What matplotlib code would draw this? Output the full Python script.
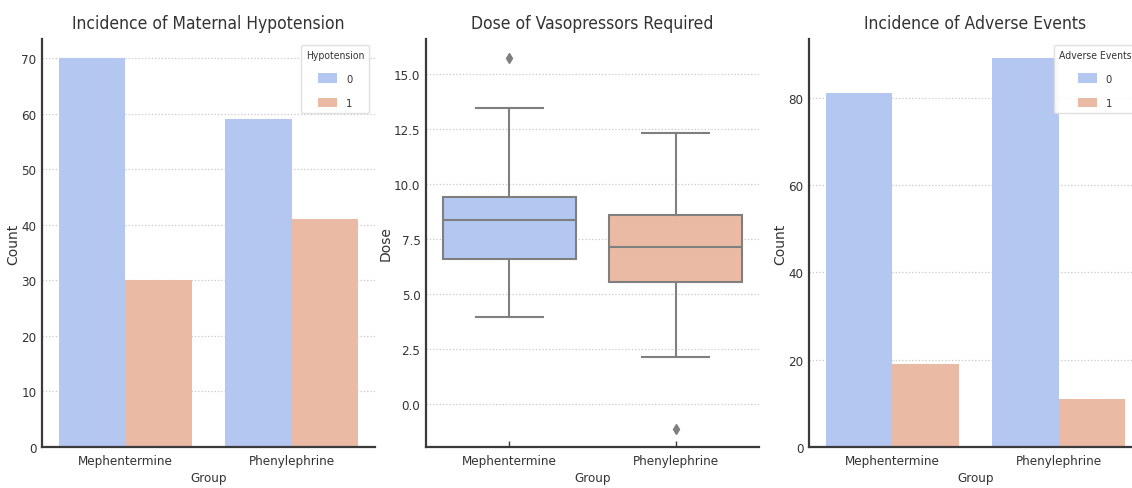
import numpy as np
import matplotlib.pyplot as plt

groups = ['Mephentermine', 'Phenylephrine']
hypo_0 = [70, 59]
hypo_1 = [30, 41]
adverse_0 = [81, 89]
adverse_1 = [19, 11]

# dose box summaries
dose_q1 = [6.58, 5.55]
dose_med = [8.36, 7.14]
dose_q3 = [9.41, 8.59]
dose_lo = [3.95, 2.14]
dose_hi = [13.45, 12.32]
dose_out = [[15.73], [-1.14]]

BLUE = '#b3c7f1'
ORANGE = '#ebbaa4'
EDGE = '#3a3a3a'

plt.rcParams['font.family'] = 'DejaVu Sans'
plt.rcParams['font.stretch'] = 'condensed'
plt.rcParams['text.color'] = '#333333'
plt.rcParams['axes.labelcolor'] = '#333333'
plt.rcParams['xtick.color'] = '#333333'
plt.rcParams['ytick.color'] = '#333333'

fig = plt.figure(figsize=(11.32, 4.89), dpi=100)
W, H = 1132, 489


def make_ax(left, right, top=40, bottom=448):
    ax = fig.add_axes([left / W, 1 - bottom / H, (right - left) / W, (bottom - top) / H])
    for s in ['top', 'right']:
        ax.spines[s].set_visible(False)
    for s in ['left', 'bottom']:
        ax.spines[s].set_color(EDGE)
        ax.spines[s].set_linewidth(1.6)
    ax.set_axisbelow(True)
    ax.yaxis.grid(True, linestyle=':', color='#c8c8c8', linewidth=0.9)
    ax.tick_params(axis='x', labelsize=9.5, length=4, width=1, color=EDGE, direction='in', pad=5)
    ax.tick_params(axis='y', labelsize=9.5, length=0, pad=4)
    return ax


def style_labels(ax, title, ylabel):
    ax.set_title(title, fontsize=12.5, pad=8)
    ax.set_xlabel('Group', fontsize=9.5, labelpad=3)
    ax.set_ylabel(ylabel, fontsize=10, fontstretch='normal', labelpad=1)


def count_bars(ax, v0, v1, legend_title):
    x = np.arange(len(groups))
    w = 0.4
    ax.bar(x - w / 2, v0, w, color=BLUE, label='0')
    ax.bar(x + w / 2, v1, w, color=ORANGE, label='1')
    ax.set_xticks(x)
    ax.set_xticklabels(groups)
    ax.set_xlim(-0.5, len(groups) - 0.5)
    ax.set_ylim(0, max(max(v0), max(v1)) * 1.05)
    leg = ax.legend(title=legend_title, loc='upper right', fontsize=8, title_fontsize=7.5,
                    handlelength=1.7, handleheight=0.9, framealpha=0.9, edgecolor='#dddddd',
                    borderpad=0.45, labelspacing=1.25, borderaxespad=0.5)
    return leg


ax1 = make_ax(42, 375)
count_bars(ax1, hypo_0, hypo_1, 'Hypotension')
style_labels(ax1, 'Incidence of Maternal Hypotension', 'Count')

ax2 = make_ax(426, 759)
stats = []
for i in range(len(groups)):
    stats.append({'med': dose_med[i], 'q1': dose_q1[i], 'q3': dose_q3[i],
                  'whislo': dose_lo[i], 'whishi': dose_hi[i], 'fliers': dose_out[i]})
gray = '#7f7f7f'
bp = ax2.bxp(stats, positions=range(len(groups)), widths=0.8, patch_artist=True,
             boxprops=dict(edgecolor=gray, linewidth=1.5),
             medianprops=dict(color=gray, linewidth=1.5),
             whiskerprops=dict(color=gray, linewidth=1.5),
             capprops=dict(color=gray, linewidth=1.5),
             flierprops=dict(marker='d', markerfacecolor=gray, markeredgecolor=gray, markersize=5))
for patch, c in zip(bp['boxes'], [BLUE, ORANGE]):
    patch.set_facecolor(c)
ax2.set_xticks(range(len(groups)))
ax2.set_xticklabels(groups)
ax2.set_xlim(-0.5, len(groups) - 0.5)
ax2.set_yticks([0, 2.5, 5, 7.5, 10, 12.5, 15])
ax2.set_ylim(-1.95, 16.6)
style_labels(ax2, 'Dose of Vasopressors Required', 'Dose')

ax3 = make_ax(809, 1142)
count_bars(ax3, adverse_0, adverse_1, 'Adverse Events')
ax3.set_yticks([0, 20, 40, 60, 80])
style_labels(ax3, 'Incidence of Adverse Events', 'Count')

fig.savefig('out.png', dpi=100)
